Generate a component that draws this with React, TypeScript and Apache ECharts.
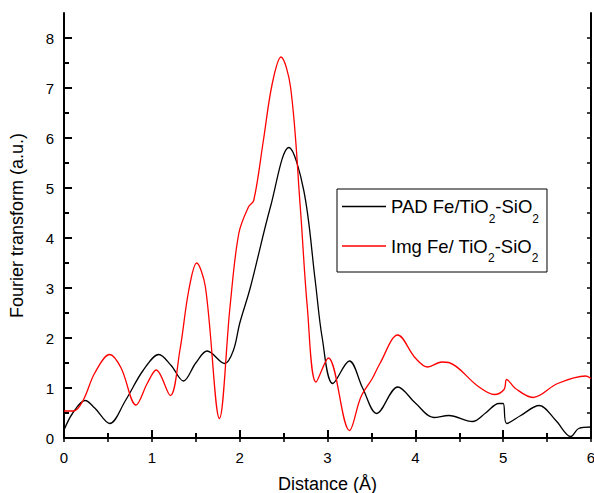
import React, { useEffect, useRef } from "react";
import * as echarts from "echarts";

const FONT = "'Liberation Sans', Arial, Helvetica, sans-serif";

const padX = [0, 0.1, 0.24, 0.35, 0.52, 0.7, 0.9, 1.08, 1.22, 1.36, 1.5, 1.63, 1.83, 1.93, 2.0, 2.12, 2.35, 2.56, 2.73, 2.86, 2.94, 3.06, 3.25, 3.4, 3.56, 3.8, 4.0, 4.21, 4.38, 4.65, 4.8, 4.95, 5.0, 5.04, 5.2, 5.41, 5.6, 5.77, 5.86, 6.0];
const padY = [0.16, 0.5, 0.75, 0.6, 0.29, 0.75, 1.35, 1.67, 1.45, 1.14, 1.5, 1.74, 1.49, 1.76, 2.29, 3.0, 4.62, 5.81, 4.95, 3.15, 2.0, 1.09, 1.54, 1.0, 0.49, 1.02, 0.7, 0.41, 0.45, 0.33, 0.5, 0.69, 0.69, 0.29, 0.45, 0.65, 0.35, 0.03, 0.19, 0.22];

const imgX = [0, 0.11, 0.22, 0.35, 0.52, 0.65, 0.82, 0.95, 1.05, 1.21, 1.32, 1.42, 1.51, 1.61, 1.77, 1.89, 1.99, 2.1, 2.16, 2.27, 2.37, 2.47, 2.58, 2.69, 2.77, 2.87, 3.01, 3.25, 3.38, 3.51, 3.6, 3.8, 4.0, 4.14, 4.3, 4.38, 4.71, 4.9, 5.01, 5.04, 5.14, 5.34, 5.62, 5.94, 6.0];
const imgY = [0.54, 0.54, 0.76, 1.3, 1.67, 1.4, 0.66, 1.1, 1.36, 0.85, 1.76, 2.95, 3.5, 3.02, 0.39, 2.62, 4.09, 4.62, 4.75, 5.95, 7.08, 7.62, 7.01, 4.62, 2.62, 1.12, 1.6, 0.15, 0.82, 1.19, 1.5, 2.06, 1.6, 1.42, 1.52, 1.51, 1.04, 0.87, 0.97, 1.17, 0.99, 0.81, 1.09, 1.24, 1.19];

const yMajor = [0, 1, 2, 3, 4, 5, 6, 7, 8];
const yMinor = [0.5, 1.5, 2.5, 3.5, 4.5, 5.5, 6.5, 7.5];
const yAll = [0, 0.5, 1, 1.5, 2, 2.5, 3, 3.5, 4, 4.5, 5, 5.5, 6, 6.5, 7, 7.5, 8];

const seriesNames = ["PAD", "Img"];

export default function App() {
  const ref = useRef<HTMLDivElement>(null);
  useEffect(() => {
    if (!ref.current) return;
    const chart = echarts.init(ref.current, undefined, { renderer: "svg" });
    const axisLine = { show: true, lineStyle: { color: "#000", width: 2 } };
    const opt: any = {
      animation: false,
      backgroundColor: "#fff",
      grid: { left: 64, right: 3, top: 13, bottom: 55, outerBoundsMode: "none", containLabel: false },
      xAxis: [
        {
          type: "value", min: 0, max: 6, interval: 1, position: "bottom",
          axisLine, splitLine: { show: false },
          axisTick: { inside: true, length: 8, lineStyle: { color: "#000", width: 2 } },
          minorTick: { show: true, splitNumber: 2, length: 5, lineStyle: { color: "#000", width: 2 } },
          axisLabel: { color: "#000", fontSize: 15, fontFamily: FONT, margin: 12 },
          name: "Distance (Å)", nameLocation: "middle", nameGap: 37,
          nameTextStyle: { color: "#000", fontSize: 18, fontFamily: FONT },
        },
        {
          type: "value", min: 0, max: 6, interval: 0.5, position: "top",
          axisLine, splitLine: { show: false },
          axisTick: { inside: true, length: 4, lineStyle: { color: "#000", width: 1.5 } },
          axisLabel: { show: false },
        },
      ],
      yAxis: [
        {
          type: "value", min: 0, max: 8.5, position: "left",
          axisLine, splitLine: { show: false },
          axisTick: { inside: true, length: 8, customValues: yMajor, lineStyle: { color: "#000", width: 2 } },
          axisLabel: { color: "#000", fontSize: 15, fontFamily: FONT, margin: 10, customValues: yMajor },
          name: "Fourier transform (a.u.)", nameLocation: "middle", nameGap: 38,
          nameTextStyle: { color: "#000", fontSize: 18, fontFamily: FONT },
        },
        {
          type: "value", min: 0, max: 8.5, position: "left",
          axisLine: { show: false }, splitLine: { show: false },
          axisTick: { inside: true, length: 5, customValues: yMinor, lineStyle: { color: "#000", width: 2 } },
          axisLabel: { show: false },
        },
        {
          type: "value", min: 0, max: 8.5, position: "right",
          axisLine, splitLine: { show: false },
          axisTick: { inside: true, length: 4, customValues: yAll, lineStyle: { color: "#000", width: 1.5 } },
          axisLabel: { show: false },
        },
      ],
      legend: {
        orient: "vertical", left: 337, top: 189,
        padding: [8, 8, 8, 5], itemGap: 12, itemWidth: 44, itemHeight: 1.5,
        icon: "rect",
        borderColor: "#000", borderWidth: 1, borderRadius: 0,
        data: seriesNames,
        textStyle: {
          color: "#000", fontSize: 18.5, fontFamily: FONT,
          rich: {
            a: { fontSize: 18.5, fontFamily: FONT, color: "#000", lineHeight: 24, verticalAlign: "middle" },
            s: { fontSize: 12, fontFamily: FONT, color: "#000", lineHeight: 24, verticalAlign: "bottom", padding: [0, 0, -6, 0] },
          },
        },
        formatter: (n: string) =>
          n === "PAD"
            ? "{a|PAD Fe/TiO}{s|2}{a|-SiO}{s|2}"
            : "{a|Img Fe/ TiO}{s|2}{a|-SiO}{s|2}",
      },
      series: [
        {
          name: "PAD", type: "line", smooth: 0.35, symbol: "none", showSymbol: false,
          data: padX.map((x, i) => [x, padY[i]]),
          lineStyle: { color: "#000", width: 1.3 }, itemStyle: { color: "#000" },
        },
        {
          name: "Img", type: "line", smooth: 0.35, symbol: "none", showSymbol: false,
          data: imgX.map((x, i) => [x, imgY[i]]),
          lineStyle: { color: "#ff0000", width: 1.3 }, itemStyle: { color: "#ff0000" },
        },
      ],
    };
    chart.setOption(opt);
    return () => chart.dispose();
  }, []);
  return <div ref={ref} style={{ width: 594, height: 493, position: "fixed", left: 0, top: 0 }} />;
}
